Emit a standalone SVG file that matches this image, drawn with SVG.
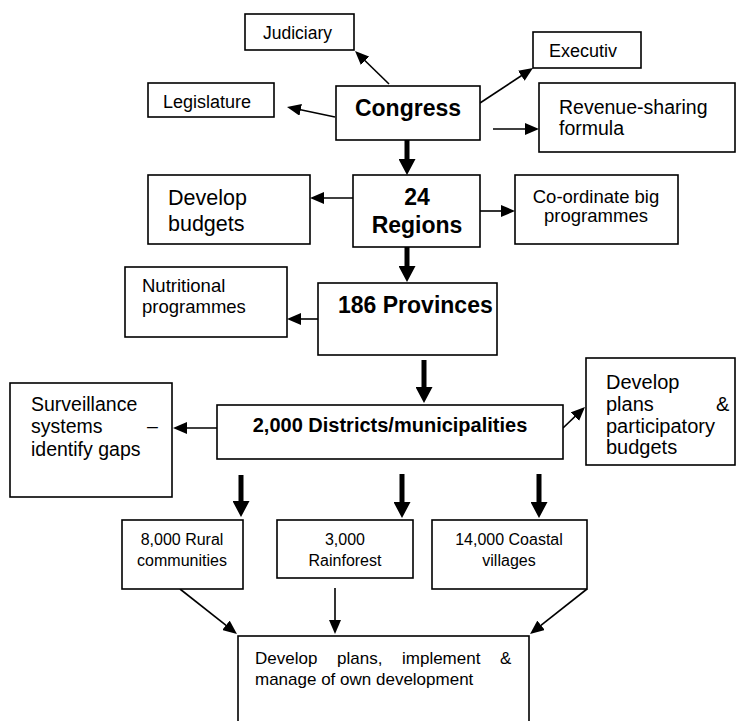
<svg xmlns="http://www.w3.org/2000/svg" width="736" height="721" viewBox="0 0 736 721">
<style>
  .box { fill: #fff; stroke: #000; stroke-width: 1.6; }
  .t { font-family: "Liberation Sans", Arial, sans-serif; fill: #000; }
  .b { font-weight: bold; }
  .thin { stroke: #000; stroke-width: 1.6; fill: none; marker-end: url(#ah); }
  .thick { stroke: #000; stroke-width: 5; fill: none; marker-end: url(#ahb); }
</style>
<defs>
  <marker id="ah" markerUnits="userSpaceOnUse" viewBox="0 0 14 12" markerWidth="14" markerHeight="12" refX="5" refY="6" orient="auto">
    <path d="M0,0 L14,6 L0,12 z" fill="#000"/>
  </marker>
  <marker id="ahb" markerUnits="userSpaceOnUse" viewBox="0 0 16 17" markerWidth="16" markerHeight="17" refX="5" refY="8.5" orient="auto">
    <path d="M0,0 L16,8.5 L0,17 z" fill="#000"/>
  </marker>
</defs>
<rect width="736" height="721" fill="#fff"/>

<g id="connectors">
  <line class="thin" x1="389" y1="84" x2="361.5" y2="57.3"/>
  <line class="thin" x1="335" y1="117" x2="295.8" y2="108.8"/>
  <line class="thin" x1="480" y1="103" x2="525.5" y2="73"/>
  <line class="thin" x1="493" y1="129" x2="530" y2="129"/>
  <line class="thin" x1="353" y1="198" x2="319" y2="198"/>
  <line class="thin" x1="480" y1="211" x2="506" y2="211"/>
  <line class="thin" x1="318" y1="319" x2="296" y2="319"/>
  <line class="thin" x1="217" y1="428" x2="182" y2="428"/>
  <line class="thin" x1="563" y1="428" x2="578.5" y2="413.2"/>
  <line class="thin" x1="180" y1="589" x2="229.9" y2="628.4"/>
  <line class="thin" x1="335" y1="588" x2="335" y2="625"/>
  <line class="thin" x1="587" y1="589" x2="537.1" y2="628.4"/>
  <line class="thick" x1="407" y1="140" x2="407" y2="164"/>
  <line class="thick" x1="407" y1="247" x2="407" y2="271"/>
  <line class="thick" x1="424" y1="360" x2="424" y2="392"/>
  <line class="thick" x1="241" y1="475" x2="241" y2="506"/>
  <line class="thick" x1="402" y1="474" x2="402" y2="507"/>
  <line class="thick" x1="539" y1="474" x2="539" y2="507"/>
</g>

<g id="judiciary">
  <rect class="box" x="245" y="14" width="109" height="36"/>
  <text class="t" x="263" y="39" font-size="17.5">Judiciary</text>
</g>
<g id="legislature">
  <rect class="box" x="148" y="83" width="126" height="34"/>
  <text class="t" x="163" y="108" font-size="18">Legislature</text>
</g>
<g id="congress">
  <rect class="box" x="336" y="86" width="144" height="54"/>
  <text class="t b" x="408" y="116" font-size="23" text-anchor="middle">Congress</text>
</g>
<g id="executiv">
  <rect class="box" x="533" y="32" width="108" height="36"/>
  <text class="t" x="549" y="57" font-size="18">Executiv</text>
</g>
<g id="revenue">
  <rect class="box" x="539" y="83" width="196" height="69"/>
  <text class="t" x="559" y="114" font-size="19.5">Revenue-sharing</text>
  <text class="t" x="559" y="135" font-size="19.5">formula</text>
</g>
<g id="regions">
  <rect class="box" x="353" y="175" width="127" height="72"/>
  <text class="t b" x="417" y="205" font-size="23" text-anchor="middle">24</text>
  <text class="t b" x="417" y="233" font-size="23" text-anchor="middle">Regions</text>
</g>
<g id="develop-budgets">
  <rect class="box" x="148" y="175" width="162" height="69"/>
  <text class="t" x="168" y="205" font-size="21.5">Develop</text>
  <text class="t" x="168" y="231" font-size="21.5">budgets</text>
</g>
<g id="coordinate">
  <rect class="box" x="515" y="175" width="163" height="69"/>
  <text class="t" x="596" y="203" font-size="18.5" text-anchor="middle">Co-ordinate big</text>
  <text class="t" x="596" y="222" font-size="18.5" text-anchor="middle">programmes</text>
</g>
<g id="provinces">
  <rect class="box" x="318" y="283" width="179" height="72"/>
  <text class="t b" x="338" y="313" font-size="23">186 Provinces</text>
</g>
<g id="nutritional">
  <rect class="box" x="125" y="267" width="162" height="70"/>
  <text class="t" x="142" y="292" font-size="18.5">Nutritional</text>
  <text class="t" x="142" y="313" font-size="18.5">programmes</text>
</g>
<g id="districts">
  <rect class="box" x="217" y="405" width="346" height="54"/>
  <text class="t b" x="390" y="432" font-size="20" text-anchor="middle">2,000 Districts/municipalities</text>
</g>
<g id="surveillance">
  <rect class="box" x="10" y="383" width="162" height="114"/>
  <text class="t" x="31" y="411" font-size="19.5">Surveillance</text>
  <text class="t" x="31" y="433" font-size="19.5">systems</text>
  <text class="t" x="147" y="433" font-size="19.5">–</text>
  <text class="t" x="31" y="456" font-size="19.5">identify gaps</text>
</g>
<g id="develop-plans">
  <rect class="box" x="586" y="358" width="149" height="107"/>
  <text class="t" x="606" y="389" font-size="20">Develop</text>
  <text class="t" x="606" y="411" font-size="20">plans</text>
  <text class="t" x="716" y="411" font-size="20">&amp;</text>
  <text class="t" x="606" y="432.5" font-size="20">participatory</text>
  <text class="t" x="606" y="454" font-size="20">budgets</text>
</g>
<g id="rural">
  <rect class="box" x="122" y="520" width="121" height="69"/>
  <text class="t" x="182" y="545" font-size="16" text-anchor="middle">8,000 Rural</text>
  <text class="t" x="182" y="566" font-size="16" text-anchor="middle">communities</text>
</g>
<g id="rainforest">
  <rect class="box" x="277" y="520" width="136" height="58"/>
  <text class="t" x="345" y="545" font-size="16" text-anchor="middle">3,000</text>
  <text class="t" x="345" y="566" font-size="16" text-anchor="middle">Rainforest</text>
</g>
<g id="coastal">
  <rect class="box" x="432" y="520" width="155" height="69"/>
  <text class="t" x="509" y="545" font-size="16" text-anchor="middle">14,000 Coastal</text>
  <text class="t" x="509" y="566" font-size="16" text-anchor="middle">villages</text>
</g>
<g id="own-development">
  <rect class="box" x="238" y="636" width="291" height="110"/>
  <text class="t" x="255" y="664" font-size="17">Develop</text>
  <text class="t" x="337" y="664" font-size="17">plans,</text>
  <text class="t" x="402" y="664" font-size="17">implement</text>
  <text class="t" x="500" y="664" font-size="17">&amp;</text>
  <text class="t" x="255" y="685" font-size="17">manage of own development</text>
</g>
</svg>
